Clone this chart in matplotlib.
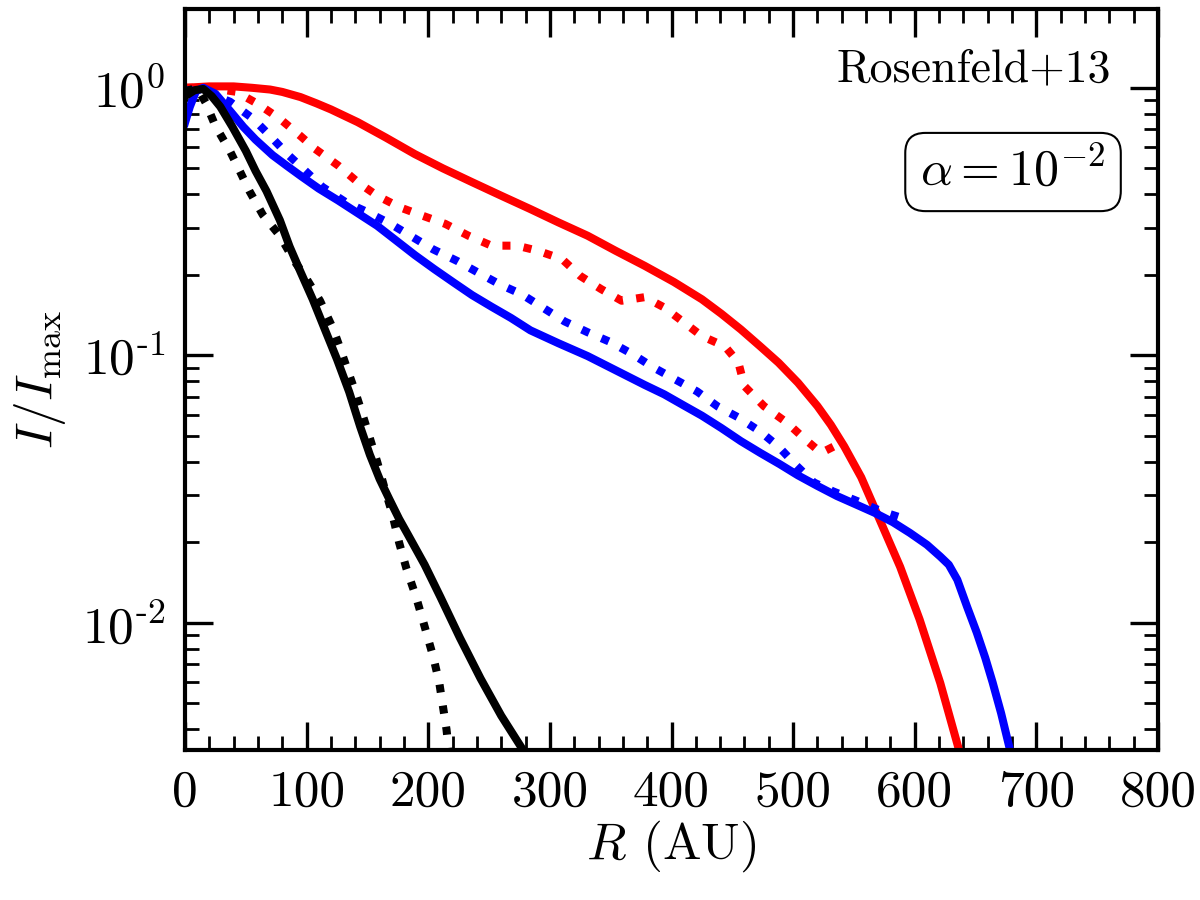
import matplotlib
matplotlib.use("Agg")
import matplotlib.pyplot as plt
from matplotlib.ticker import LogLocator, MultipleLocator, NullFormatter

plt.rcParams['font.family'] = 'serif'
plt.rcParams['font.serif'] = ['cmr10']
plt.rcParams['mathtext.fontset'] = 'cm'
plt.rcParams['axes.unicode_minus'] = False
plt.rcParams['axes.formatter.use_mathtext'] = True

# ---- data (R in AU, I/Imax) ----
red_solid_r = [0, 20, 40, 55, 70, 80, 95, 108, 120, 142, 165, 189, 212, 236, 260, 284, 307, 331,
               354, 378, 402, 425, 441, 457, 473, 488, 504, 520, 531, 542, 556, 570, 588, 604,
               621, 636]
red_solid_i = [1.0, 1.012, 1.012, 1.0, 0.985, 0.965, 0.923, 0.875, 0.83, 0.744, 0.652, 0.565,
               0.5, 0.444, 0.395, 0.352, 0.314, 0.28, 0.246, 0.216, 0.188, 0.162, 0.143, 0.125,
               0.108, 0.0939, 0.079, 0.0646, 0.055, 0.0457, 0.035, 0.025, 0.0162, 0.0103,
               0.00596, 0.0034]

red_dash_r = [0, 20, 42, 60, 78, 95, 107, 126, 142, 158, 177, 195, 214, 233, 252, 273, 290, 310,
              325, 342, 359, 378, 394, 410, 425, 444, 455, 460, 476, 495, 510, 523, 539]
red_dash_i = [1.0, 1.0, 0.966, 0.87, 0.766, 0.66, 0.591, 0.512, 0.444, 0.395, 0.357, 0.333,
              0.31, 0.28, 0.257, 0.257, 0.246, 0.229, 0.198, 0.177, 0.16, 0.165, 0.151, 0.133,
              0.118, 0.108, 0.094, 0.0767, 0.0646, 0.056, 0.0485, 0.0432, 0.047]

blue_solid_r = [0, 4, 9, 15, 25, 37, 48, 58, 72, 84, 95, 110, 126, 142, 158, 173, 189, 205, 221,
                236, 252, 268, 284, 307, 331, 354, 378, 394, 410, 425, 441, 457, 473, 489, 504,
                520, 536, 551, 567, 582, 596, 610, 621, 628, 635, 643, 651, 658, 664, 671, 678]
blue_solid_i = [0.74, 0.85, 0.97, 1.0, 0.95, 0.82, 0.714, 0.64, 0.56, 0.51, 0.469, 0.42, 0.379,
                0.34, 0.305, 0.27, 0.237, 0.21, 0.187, 0.168, 0.152, 0.138, 0.124, 0.111, 0.0994,
                0.088, 0.0775, 0.0715, 0.065, 0.0595, 0.0535, 0.0478, 0.0432, 0.0392, 0.0356,
                0.0325, 0.0298, 0.0278, 0.0258, 0.0238, 0.0217, 0.0196, 0.0177, 0.0165, 0.0145,
                0.0115, 0.0092, 0.0074, 0.006, 0.0046, 0.0034]

blue_dash_r = [0, 15, 37, 56, 70, 84, 99, 113, 132, 150, 169, 187, 204, 224, 240, 259, 277, 294,
               312, 331, 350, 368, 385, 403, 421, 438, 455, 473, 488, 502, 517, 533, 553, 574, 594]
blue_dash_i = [0.98, 0.975, 0.887, 0.766, 0.661, 0.566, 0.489, 0.426, 0.374, 0.343, 0.31, 0.277,
               0.249, 0.225, 0.205, 0.184, 0.169, 0.151, 0.134, 0.122, 0.112, 0.101, 0.0902,
               0.0813, 0.0733, 0.0644, 0.0586, 0.0519, 0.0456, 0.039, 0.0335, 0.031, 0.0285,
               0.026, 0.0243]

black_solid_r = [0, 8, 15, 22, 29, 39, 50, 58, 67, 78, 86, 95, 105, 115, 125, 135, 144, 152, 160,
                 168, 176, 183, 197, 210, 226, 243, 260, 277]
black_solid_i = [0.93, 0.98, 0.99, 0.93, 0.85, 0.714, 0.581, 0.489, 0.411, 0.32, 0.255, 0.205,
                 0.162, 0.125, 0.0966, 0.073, 0.0542, 0.0425, 0.0345, 0.029, 0.0245, 0.0215,
                 0.0165, 0.0125, 0.0088, 0.0062, 0.0045, 0.0034]

black_dash_r = [0, 10, 17, 25, 37, 45, 53, 64, 78, 90, 100, 111, 117, 122, 127, 133, 140, 146,
                152, 158, 164, 170, 176, 182, 190, 197, 204, 209, 212, 215, 217]
black_dash_i = [0.97, 1.0, 0.88, 0.72, 0.58, 0.489, 0.411, 0.335, 0.28, 0.225, 0.193, 0.16,
                0.14, 0.125, 0.108, 0.09, 0.073, 0.06, 0.049, 0.04, 0.032, 0.026, 0.020, 0.016,
                0.0125, 0.0097, 0.0075, 0.006, 0.0049, 0.004, 0.0033]

ytick_vals = [1e-2, 1e-1, 1e0]
ytick_labels = [r'$10^{\text{-}2}$', r'$10^{\text{-}1}$', r'$10^{0}$']
xtick_vals = [0, 100, 200, 300, 400, 500, 600, 700, 800]

fig = plt.figure(figsize=(12, 9), dpi=100)
ax = fig.add_axes([185 / 1200, 1 - 750 / 900, (1158 - 185) / 1200, (750 - 9) / 900])

lw = 5.8
ax.plot(red_solid_r, red_solid_i, color='red', lw=lw, solid_joinstyle='round')
ax.plot(red_dash_r, red_dash_i, color='red', lw=lw, ls=':')
ax.plot(blue_solid_r, blue_solid_i, color='blue', lw=lw, solid_joinstyle='round')
ax.plot(blue_dash_r, blue_dash_i, color='blue', lw=lw, ls=':')
ax.plot(black_solid_r, black_solid_i, color='black', lw=lw, solid_joinstyle='round')
ax.plot(black_dash_r, black_dash_i, color='black', lw=lw, ls=':')

ax.set_yscale('log')
ax.set_xlim(0, 800)
ax.set_ylim(3.35e-3, 1.97)

ax.set_xticks(xtick_vals)
ax.set_xticklabels([str(v) for v in xtick_vals])
ax.xaxis.set_minor_locator(MultipleLocator(20))
ax.set_yticks(ytick_vals)
ax.set_yticklabels(ytick_labels)
ax.yaxis.set_minor_locator(LogLocator(base=10, subs=range(2, 10)))
ax.yaxis.set_minor_formatter(NullFormatter())

for s in ax.spines.values():
    s.set_linewidth(3.0)
ax.tick_params(which='both', direction='in', top=True, right=True, labelsize=37, pad=14)
ax.tick_params(which='major', length=20, width=2.4)
ax.tick_params(which='minor', length=10, width=2.0)

ax.set_xlabel(r'$R$ (AU)', fontsize=37, labelpad=2)
ax.set_ylabel(r'$I/I_{\rm max}$', fontsize=37, labelpad=10)

ax.text(0.952, 0.918, 'Rosenfeld+13', transform=ax.transAxes, ha='right', va='center',
        fontsize=33)
ax.text(0.851, 0.78, r'$\alpha=10^{-2}$', transform=ax.transAxes, ha='center', va='center',
        fontsize=36,
        bbox=dict(boxstyle='round,pad=0.3,rounding_size=0.4', fc='white', ec='black', lw=1.5))

fig.savefig('out.png', dpi=100)
